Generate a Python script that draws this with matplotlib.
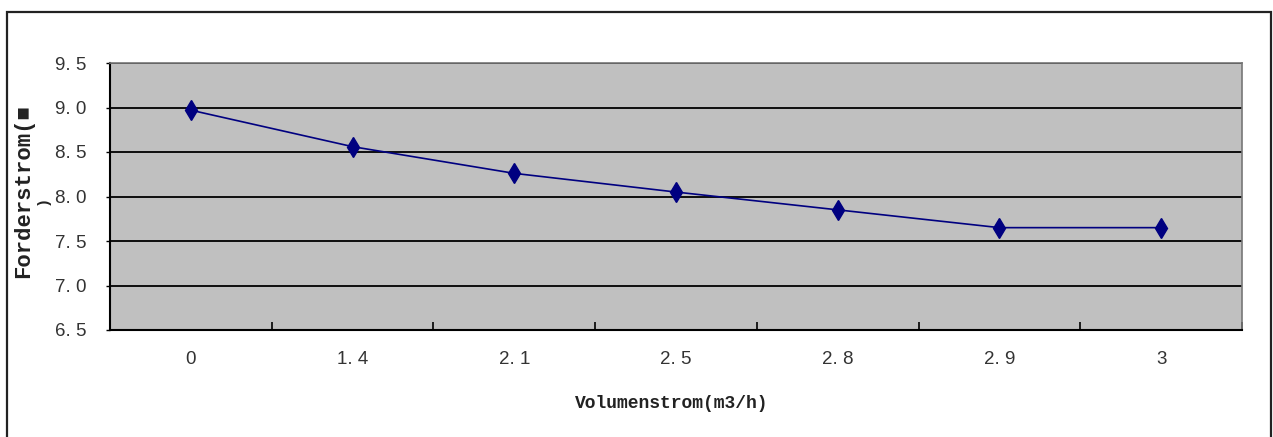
import numpy as np
import matplotlib
matplotlib.use("Agg")
import matplotlib.pyplot as plt
from matplotlib.patches import Rectangle

# pump curve: delivery head vs. volume flow
flow_labels = ["0", "1.4", "2.1", "2.5", "2.8", "2.9", "3"]
head = [8.97, 8.56, 8.26, 8.05, 7.85, 7.65, 7.65]
y_ticks = [6.5, 7.0, 7.5, 8.0, 8.5, 9.0, 9.5]
y_tick_labels = ["6. 5", "7. 0", "7. 5", "8. 0", "8. 5", "9. 0", "9. 5"]
x_tick_labels = ["0", "1. 4", "2. 1", "2. 5", "2. 8", "2. 9", "3"]

TICK_FONT = "Liberation Sans"
LABEL_FONT = "Liberation Mono"

W, H = 1273, 437
fig = plt.figure(figsize=(W / 100, H / 100), dpi=100)
fig.patch.set_facecolor("white")

# outer chart frame
fig.patches.append(Rectangle((7 / W, -0.05), 1264 / W, 1.05 - 12 / H,
                             transform=fig.transFigure, fill=False,
                             edgecolor="#222222", linewidth=1.6))

left, right, top, bottom = 110, 1242, 63, 330
ax = fig.add_axes([left / W, 1 - bottom / H, (right - left) / W, (bottom - top) / H])
ax.set_facecolor("#C0C0C0")

x = np.arange(len(head))
ax.plot(x, head, color="#000080", linewidth=1.2, marker="d", markersize=10,
        markerfacecolor="#000080", markeredgecolor="#000080", zorder=3)

ax.set_xlim(-0.5, len(head) - 0.5)
ax.set_ylim(6.5, 9.5)
ax.set_yticks(y_ticks)
ax.set_yticklabels(y_tick_labels, family=TICK_FONT, fontsize=13.5, color="#333333")
ax.grid(axis="y", color="black", linewidth=1.3)
ax.set_axisbelow(True)

ax.set_xticks(x)
ax.set_xticklabels(x_tick_labels, family=TICK_FONT, fontsize=13.5, color="#333333")
ax.tick_params(axis="x", which="major", length=0, pad=15)
ax.set_xticks(np.arange(-0.5, len(head), 1.0), minor=True)
ax.tick_params(axis="x", which="minor", direction="in", length=6, width=1.2, color="black")
ax.tick_params(axis="y", direction="out", length=3, width=1.0, color="black", pad=14)

for side in ("left", "bottom"):
    ax.spines[side].set_color("black")
    ax.spines[side].set_linewidth(1.5)
for side in ("top", "right"):
    ax.spines[side].set_color("#777777")
    ax.spines[side].set_linewidth(1.2)

# axis titles placed in figure pixels
fig.text(672 / W, 1 - 403 / H, "Volumenstrom(m3/h)", family=LABEL_FONT,
         fontsize=13, fontweight="bold", color="#222222", ha="center", va="center")
fig.text(24 / W, 1 - 191 / H, "Forderstrom(■", family=LABEL_FONT, rotation=90,
         fontsize=16, fontweight="bold", color="#222222", ha="center", va="center")
fig.text(43 / W, 1 - 200 / H, ")", family=LABEL_FONT, rotation=90,
         fontsize=11, fontweight="bold", color="#222222", ha="center", va="center")

fig.savefig("out.png", dpi=100)
